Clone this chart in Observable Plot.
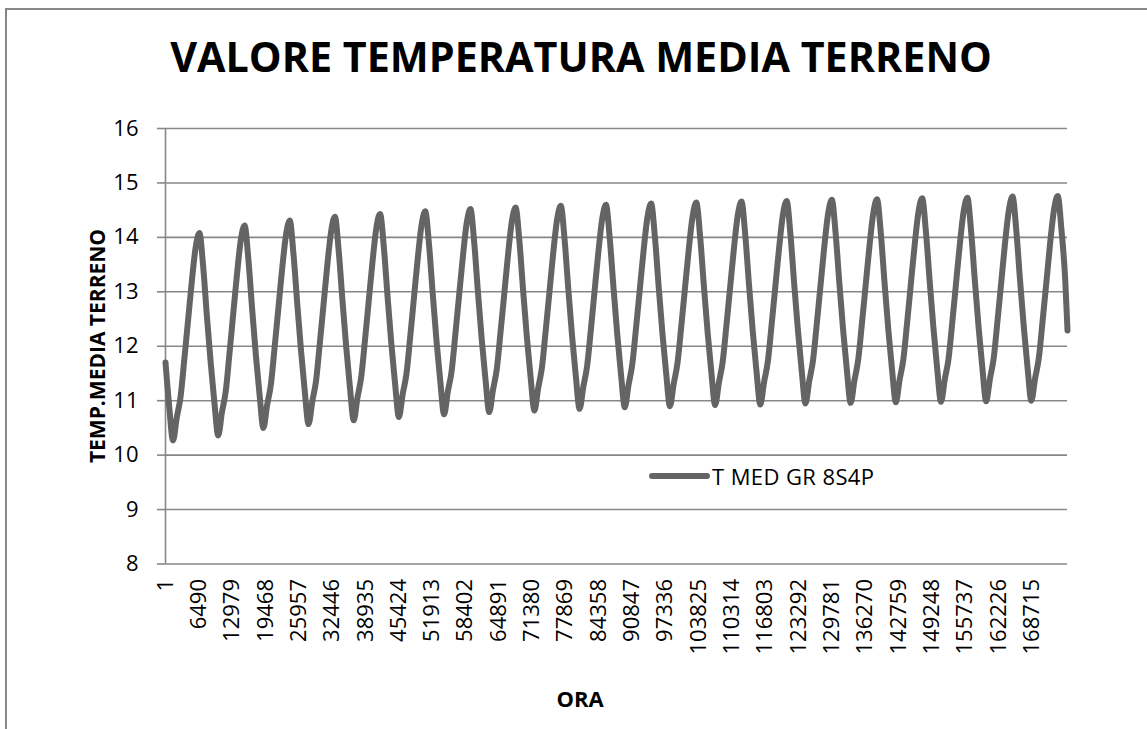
<!DOCTYPE html>
<html>
<head>
<meta charset="utf-8">
<script src="https://cdn.jsdelivr.net/npm/d3@7"></script>
<script src="https://cdn.jsdelivr.net/npm/@observablehq/plot@0.6"></script>
<style>
  body { margin: 0; background: #fff; }
  #chart { position: relative; width: 1147px; height: 729px; overflow: hidden; font-family: "Open Sans", sans-serif; color: #000; }
  #chart > svg { position: absolute; left: 0; top: 0; }
  #frame { position: absolute; left: 5px; top: 8px; width: 1300px; height: 900px; border-top: 2px solid #878787; border-left: 2px solid #878787; }
  #title { position: absolute; left: 0; width: 1162px; top: 36px; text-align: center; font-weight: 700; font-size: 41.3px; line-height: 1; white-space: nowrap; }
  #ytitle { position: absolute; left: 97px; top: 346px; transform: translate(-50%, -50%) rotate(-90deg); font-weight: 700; font-size: 21px; white-space: nowrap; }
  #xtitle { position: absolute; left: 580px; top: 698px; transform: translate(-50%, -50%); font-weight: 700; font-size: 22px; white-space: nowrap; }
  #legend { position: absolute; left: 649px; top: 461px; display: flex; align-items: center; font-size: 22px; letter-spacing: 0.4px; white-space: nowrap; }
  #legend svg { margin-right: 2px; }
</style>
</head>
<body>
<div id="chart">
  <div id="frame"></div>
  <div id="title">VALORE TEMPERATURA MEDIA TERRENO</div>
  <div id="ytitle">TEMP.MEDIA TERRENO</div>
  <div id="xtitle">ORA</div>
  <div id="legend"><svg width="61" height="10"><line x1="3" y1="5" x2="58" y2="5" stroke="#646464" stroke-width="6" stroke-linecap="round"/></svg><span>T MED GR 8S4P</span></div>
</div>
<script>
// Mean ground temperature, one reading per ~month (733 h) over the 20 simulated years
const seriesName = "T MED GR 8S4P";
const sampleStep = 733;
const lastHour = 175630;
const lastTemp = 12.29;
const tempSamples = [
  11.70, 10.88, 10.27, 10.69, 11.07, 11.76, 12.48, 13.20, 13.81, 14.08, 13.47, 12.55,
  11.70, 10.96, 10.36, 10.79, 11.17, 11.87, 12.60, 13.33, 13.95, 14.22, 13.61, 12.70,
  11.84, 11.10, 10.50, 10.92, 11.30, 11.99, 12.71, 13.43, 14.04, 14.31, 13.69, 12.78,
  11.92, 11.17, 10.57, 10.99, 11.37, 12.06, 12.78, 13.50, 14.11, 14.38, 13.76, 12.85,
  11.99, 11.24, 10.64, 11.06, 11.44, 12.12, 12.84, 13.56, 14.17, 14.43, 13.82, 12.90,
  12.04, 11.30, 10.70, 11.12, 11.49, 12.17, 12.89, 13.61, 14.22, 14.48, 13.87, 12.95,
  12.09, 11.35, 10.75, 11.17, 11.54, 12.22, 12.94, 13.65, 14.26, 14.52, 13.91, 12.99,
  12.13, 11.39, 10.79, 11.20, 11.58, 12.26, 12.97, 13.69, 14.29, 14.55, 13.94, 13.02,
  12.16, 11.42, 10.82, 11.23, 11.61, 12.29, 13.00, 13.72, 14.32, 14.58, 13.97, 13.05,
  12.19, 11.45, 10.85, 11.26, 11.64, 12.31, 13.03, 13.74, 14.34, 14.60, 13.99, 13.08,
  12.22, 11.48, 10.88, 11.29, 11.67, 12.34, 13.05, 13.76, 14.36, 14.62, 14.01, 13.10,
  12.24, 11.50, 10.90, 11.31, 11.69, 12.36, 13.07, 13.78, 14.38, 14.64, 14.03, 13.12,
  12.26, 11.52, 10.92, 11.33, 11.71, 12.38, 13.09, 13.80, 14.40, 14.66, 14.05, 13.13,
  12.27, 11.53, 10.93, 11.34, 11.72, 12.39, 13.10, 13.81, 14.41, 14.67, 14.06, 13.15,
  12.29, 11.55, 10.95, 11.36, 11.74, 12.41, 13.12, 13.83, 14.43, 14.69, 14.08, 13.16,
  12.30, 11.56, 10.96, 11.37, 11.75, 12.42, 13.13, 13.84, 14.44, 14.70, 14.09, 13.17,
  12.31, 11.57, 10.97, 11.38, 11.76, 12.43, 13.15, 13.86, 14.46, 14.72, 14.10, 13.19,
  12.33, 11.58, 10.98, 11.39, 11.77, 12.44, 13.16, 13.87, 14.47, 14.73, 14.11, 13.20,
  12.34, 11.59, 10.99, 11.40, 11.78, 12.46, 13.17, 13.89, 14.49, 14.75, 14.13, 13.21,
  12.35, 11.60, 11.00, 11.41, 11.79, 12.47, 13.18, 13.90, 14.50, 14.76, 14.14, 13.22
];
const xTicks = [1, 6490, 12979, 19468, 25957, 32446, 38935, 45424, 51913, 58402, 64891,
  71380, 77869, 84358, 90847, 97336, 103825, 110314, 116803, 123292, 129781, 136270,
  142759, 149248, 155737, 162226, 168715];
const yTicks = [8, 9, 10, 11, 12, 13, 14, 15, 16];

const rows = tempSamples.map((t, i) => ({ hour: 1 + i * sampleStep, temp: t }));
rows.push({ hour: lastHour, temp: lastTemp });

const grey = "#878787";
const chart = Plot.plot({
  width: 1147,
  height: 729,
  marginLeft: 165,
  marginRight: 80,
  marginTop: 128,
  marginBottom: 165.5,
  style: { fontFamily: "'Open Sans', sans-serif", fontSize: "22px", color: "#000", background: "transparent", overflow: "visible" },
  x: { domain: [1, lastHour] },
  y: { domain: [8, 16] },
  marks: [
    Plot.gridY(yTicks, { stroke: grey, strokeOpacity: 1, strokeWidth: 1.6 }),
    Plot.ruleX([1], { stroke: grey, strokeWidth: 1.6 }),
    Plot.axisY(yTicks, { tickSize: 8, tickPadding: 19, stroke: grey, strokeWidth: 1.6, label: null, tickFormat: d => String(d), fontSize: 22 }),
    Plot.axisX(xTicks, { tickSize: 0, tickPadding: 15, tickRotate: -90, label: null, tickFormat: d => String(d), fontSize: 22 }),
    Plot.line(rows, { x: "hour", y: "temp", curve: "monotone-x", stroke: "#646464", strokeWidth: 6, strokeLinejoin: "round", strokeLinecap: "round" })
  ]
});
document.getElementById("chart").prepend(chart);
</script>
</body>
</html>
